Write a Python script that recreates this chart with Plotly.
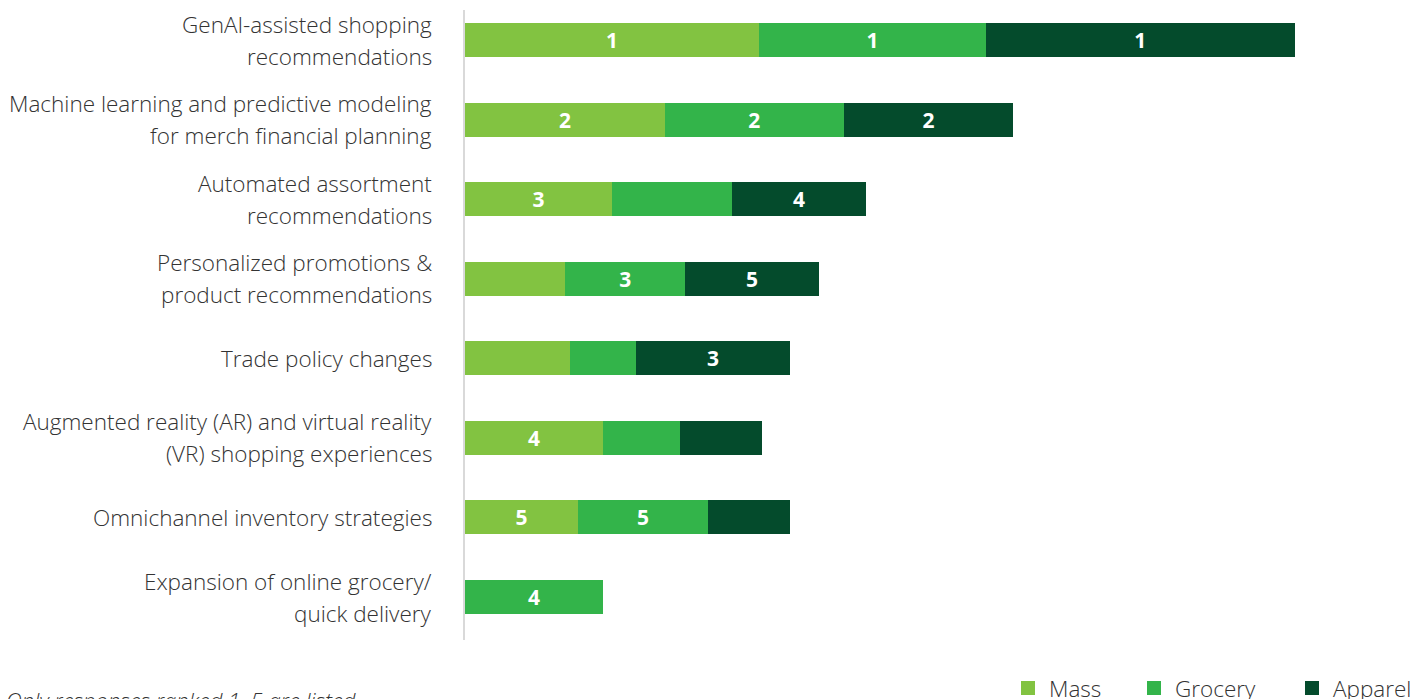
import plotly.graph_objects as go

# Categories, top to bottom (two display lines each)
categories = [
    "GenAI-assisted shopping<br>recommendations",
    "Machine learning and predictive modeling<br>for merch financial planning",
    "Automated assortment<br>recommendations",
    "Personalized promotions &<br>product recommendations",
    "Trade policy changes",
    "Augmented reality (AR) and virtual reality<br>(VR) shopping experiences",
    "Omnichannel inventory strategies",
    "Expansion of online grocery/<br>quick delivery",
]

series_names = ["Mass", "Grocery", "Apparel"]

# Segment sizes per segment
mass_values = [49.0, 33.3, 24.5, 16.7, 17.5, 23.0, 18.8, None]
grocery_values = [37.8, 29.8, 20.0, 20.0, 11.0, 12.8, 21.7, 23.0]
apparel_values = [51.5, 28.3, 22.3, 22.3, 25.7, 13.7, 13.7, None]

# Rank labels (only ranks 1-5 shown)
mass_ranks = ["1", "2", "3", "", "", "4", "5", ""]
grocery_ranks = ["1", "2", "", "3", "", "", "5", "4"]
apparel_ranks = ["1", "2", "4", "5", "3", "", "", ""]

colors = ["#82C341", "#33B44A", "#044B2C"]

FONT = "Open Sans"
TEXT_COLOR = "#333333"

fig = go.Figure()
for name, vals, ranks, col in zip(
    series_names,
    [mass_values, grocery_values, apparel_values],
    [mass_ranks, grocery_ranks, apparel_ranks],
    colors,
):
    fig.add_trace(
        go.Bar(
            name=name,
            y=list(range(len(categories))),
            x=vals,
            orientation="h",
            marker=dict(color=col, line=dict(width=0)),
            text=ranks,
            textposition="inside",
            insidetextanchor="middle",
            textangle=0,
            textfont=dict(family=FONT, size=21, color="white", weight=700),
            hoverinfo="skip",
            showlegend=False,
        )
    )

# Category labels, drawn line by line for wider line spacing
annotations = []
for i, cat in enumerate(categories):
    lines = cat.split("<br>")
    n = len(lines)
    for j, line in enumerate(lines):
        offset = (j - (n - 1) / 2) * 32
        annotations.append(
            dict(
                text=line,
                xref="paper", x=0, xanchor="right", xshift=-31,
                yref="y", y=i, yanchor="middle", yshift=-offset,
                showarrow=False,
                font=dict(family=FONT, size=22.5, color=TEXT_COLOR, weight=300),
            )
        )

# Footnote
annotations.append(
    dict(
        text="<i>Only responses ranked 1–5 are listed.</i>",
        xref="paper", x=0, xanchor="left",
        yref="paper", y=0, yanchor="top",
        xshift=-461, yshift=-43,
        showarrow=False,
        font=dict(family=FONT, size=22, color=TEXT_COLOR, weight=300),
    )
)

# Legend drawn as squares plus labels
legend_x = [1021, 1147, 1305]
for name, col, lx in zip(series_names, colors, legend_x):
    annotations.append(
        dict(
            text=name,
            xref="paper", x=0, xanchor="left", xshift=lx + 26 - 465,
            yref="paper", y=0, yanchor="middle", yshift=-48,
            showarrow=False,
            font=dict(family=FONT, size=22.5, color=TEXT_COLOR, weight=300),
        )
    )

shapes = []
plot_w = 1428 - 465 - 28
for col, lx in zip(colors, legend_x):
    x0 = (lx - 465) / plot_w
    x1 = (lx + 14 - 465) / plot_w
    shapes.append(
        dict(
            type="rect", xref="paper", yref="paper",
            x0=x0, x1=x1, y0=-(681 - 640) / 630, y1=-(695 - 640) / 630,
            fillcolor=col, line=dict(width=0),
        )
    )

fig.update_layout(
    barmode="stack",
    bargap=0.573,
    width=1428,
    height=699,
    margin=dict(l=465, r=28, t=10, b=59),
    paper_bgcolor="white",
    plot_bgcolor="white",
    font=dict(family=FONT, color=TEXT_COLOR),
    uniformtext=dict(mode="show", minsize=10),
    xaxis=dict(
        range=[0, plot_w / 6.0],
        showgrid=False, zeroline=False, showticklabels=False,
        showline=False, fixedrange=True,
    ),
    yaxis=dict(
        range=[7.54, -0.377],
        showgrid=False, zeroline=False, showticklabels=False,
        showline=True, linecolor="#d9d9d9", linewidth=2,
        fixedrange=True,
    ),
    annotations=annotations,
    shapes=shapes,
    showlegend=False,
)

fig.write_html("out.html")
